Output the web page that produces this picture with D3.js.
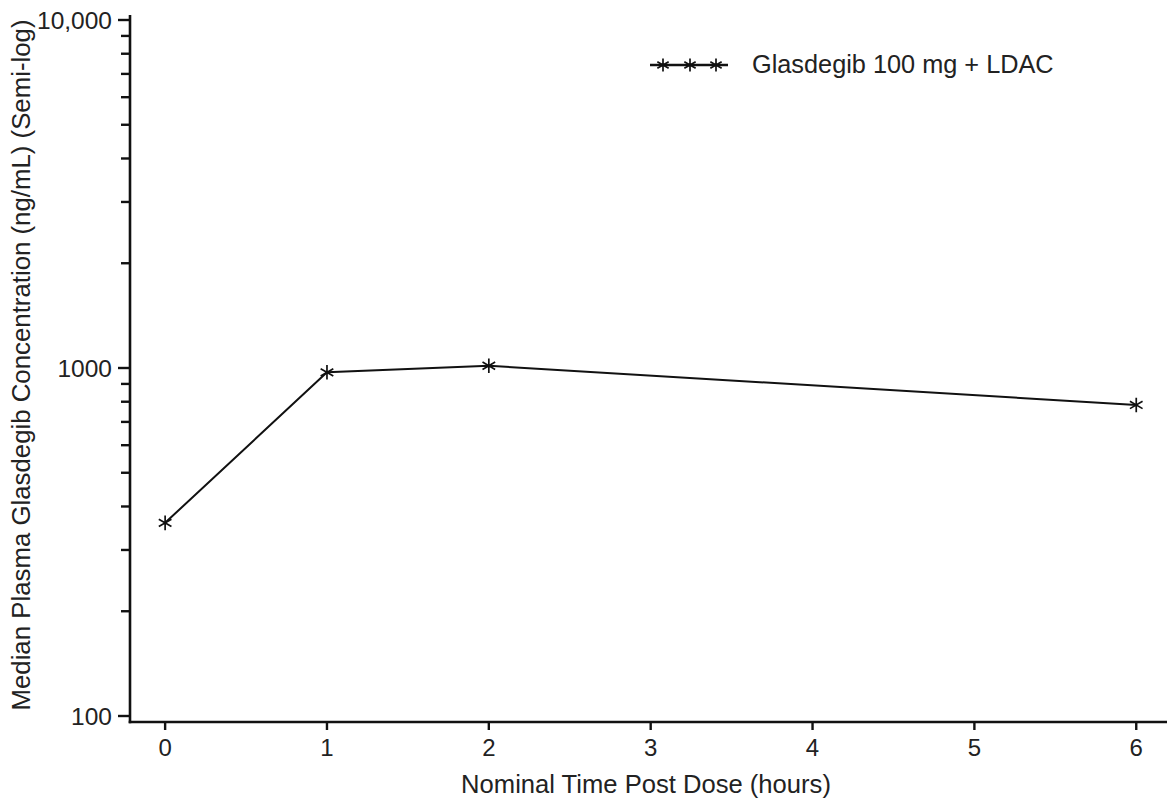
<!DOCTYPE html>
<html>
<head>
<meta charset="utf-8">
<script src="https://cdn.jsdelivr.net/npm/d3@7"></script>
<style>
  html, body { margin: 0; padding: 0; background: #fff; }
  svg { display: block; font-family: "Liberation Sans", Arial, sans-serif; }
</style>
</head>
<body>
<svg id="chart" width="1167" height="800"></svg>
<script>
// ---- data ----
const timeHours = [0, 1, 2, 6];
const medianConc = [359, 972, 1015, 783];
const seriesName = "Glasdegib 100 mg + LDAC";
const xTickValues = [0, 1, 2, 3, 4, 5, 6];
const yMajorTicks = [100, 1000, 10000];
const yMajorLabels = ["100", "1000", "10,000"];
const yMinorTicks = [200, 300, 400, 500, 600, 700, 800, 900,
                     2000, 3000, 4000, 5000, 6000, 7000, 8000, 9000];
const xTitle = "Nominal Time Post Dose (hours)";
const yTitle = "Median Plasma Glasdegib Concentration (ng/mL) (Semi-log)";

// ---- layout ----
const svg = d3.select("#chart");
const axisX = 130, axisY = 722;
const x = d3.scaleLinear().domain([-0.217, 6.19]).range([axisX, 1167]);
const y = d3.scaleLog().domain([100, 10000]).range([716, 20]);
const ink = "#111";

// y axis line
svg.append("line").attr("x1", axisX).attr("x2", axisX)
  .attr("y1", 15).attr("y2", axisY + 1.2)
  .attr("stroke", ink).attr("stroke-width", 2.6);
// x axis line
svg.append("line").attr("x1", axisX - 1.3).attr("x2", 1167)
  .attr("y1", axisY).attr("y2", axisY)
  .attr("stroke", ink).attr("stroke-width", 2.6);

// y ticks
svg.append("g").selectAll("line.minor").data(yMinorTicks).join("line")
  .attr("x1", 121).attr("x2", axisX)
  .attr("y1", d => y(d)).attr("y2", d => y(d))
  .attr("stroke", ink).attr("stroke-width", 2.4);
svg.append("g").selectAll("line.major").data(yMajorTicks).join("line")
  .attr("x1", 118).attr("x2", axisX)
  .attr("y1", d => y(d)).attr("y2", d => y(d))
  .attr("stroke", ink).attr("stroke-width", 2.4);
svg.append("g").selectAll("text").data(yMajorTicks).join("text")
  .attr("x", 112).attr("y", d => y(d))
  .attr("dy", "0.36em")
  .attr("text-anchor", "end")
  .attr("font-size", 24.5).attr("fill", "#222")
  .text((d, i) => yMajorLabels[i]);

// x ticks
svg.append("g").selectAll("line").data(xTickValues).join("line")
  .attr("x1", d => x(d)).attr("x2", d => x(d))
  .attr("y1", axisY).attr("y2", axisY + 8)
  .attr("stroke", ink).attr("stroke-width", 2.4);
svg.append("g").selectAll("text").data(xTickValues).join("text")
  .attr("x", d => x(d)).attr("y", 756)
  .attr("text-anchor", "middle")
  .attr("font-size", 24).attr("fill", "#222")
  .text(d => d);

// axis titles
svg.append("text").attr("x", 646).attr("y", 793)
  .attr("text-anchor", "middle").attr("font-size", 25.6).attr("fill", "#222")
  .text(xTitle);
svg.append("text")
  .attr("transform", "translate(30,365) rotate(-90)")
  .attr("text-anchor", "middle").attr("font-size", 25.8).attr("fill", "#222")
  .text(yTitle);

// series line
const pts = timeHours.map((t, i) => [t, medianConc[i]]);
svg.append("path")
  .attr("d", d3.line().x(d => x(d[0])).y(d => y(d[1]))(pts))
  .attr("fill", "none").attr("stroke", ink).attr("stroke-width", 2);

const star = d3.symbol(d3.symbolAsterisk, 150);
svg.append("g").selectAll("path").data(pts).join("path")
  .attr("transform", d => `translate(${x(d[0])},${y(d[1])})`)
  .attr("d", star())
  .attr("fill", "none").attr("stroke", ink).attr("stroke-width", 1.7);

// legend
const lg = svg.append("g");
lg.append("line").attr("x1", 650).attr("x2", 728).attr("y1", 65).attr("y2", 65)
  .attr("stroke", ink).attr("stroke-width", 2.4);
lg.selectAll("path").data([663, 690, 716]).join("path")
  .attr("transform", d => `translate(${d},65)`)
  .attr("d", d3.symbol(d3.symbolAsterisk, 120)())
  .attr("fill", "none").attr("stroke", ink).attr("stroke-width", 1.7);
lg.append("text").attr("x", 752).attr("y", 73)
  .attr("font-size", 25.3).attr("fill", "#222")
  .text(seriesName);
</script>
</body>
</html>
